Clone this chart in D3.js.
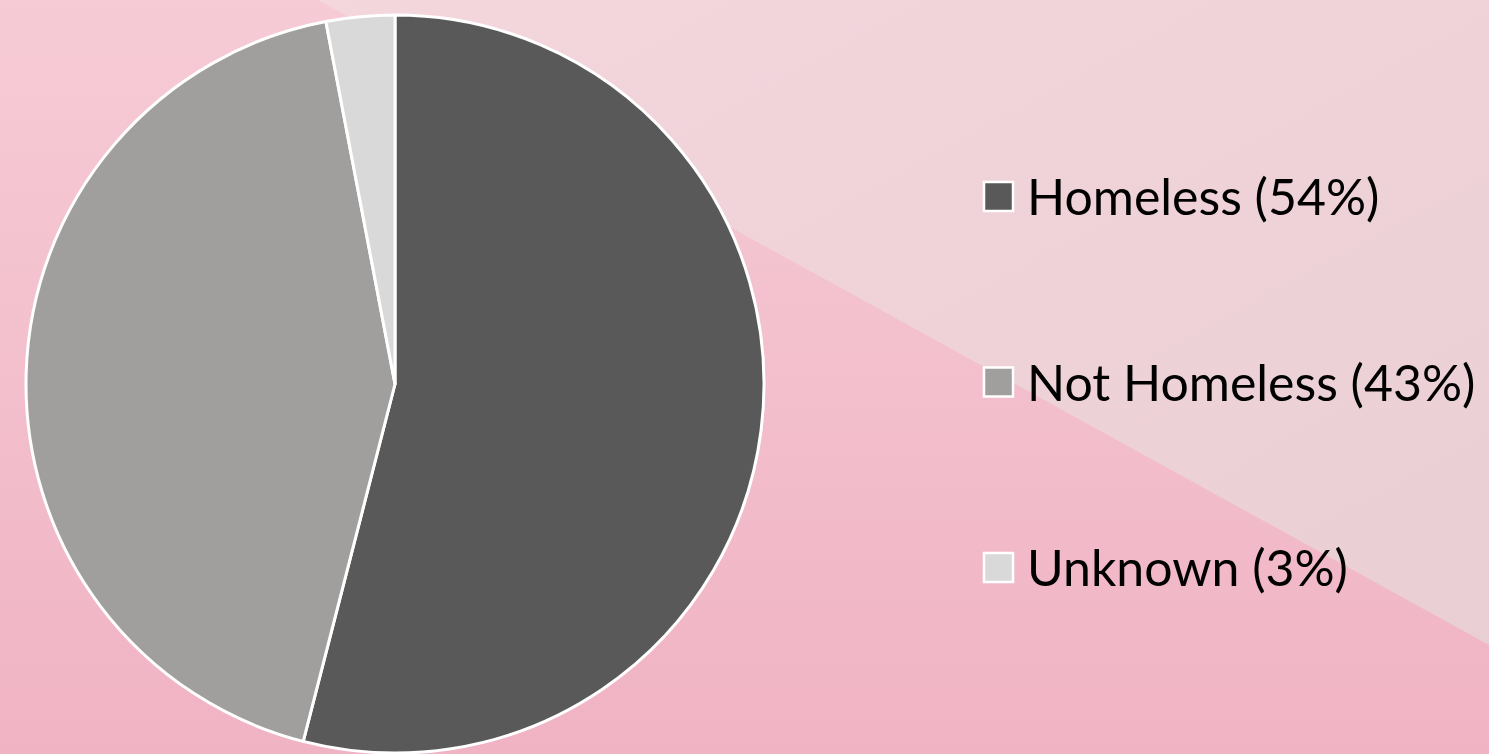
<!DOCTYPE html>
<html>
<head>
<meta charset="utf-8">
<script src="https://cdn.jsdelivr.net/npm/d3@7"></script>
<style>
  html, body { margin: 0; padding: 0; overflow: hidden; }
  svg { display: block; }
</style>
</head>
<body>
<svg id="chart" width="1489" height="754"></svg>
<script>
// Share of cases by housing status
const categories = ["Homeless", "Not Homeless", "Unknown"];
const shares = [54, 43, 3];
const sliceColors = ["#595959", "#a09f9d", "#d9d9d9"];

const W = 1489, H = 754;
const svg = d3.select("#chart");

// Background: pink vertical gradient with a pale diagonal panel on the upper right
const defs = svg.append("defs");
const bg = defs.append("linearGradient").attr("id", "bgGrad")
  .attr("x1", 0).attr("y1", 0).attr("x2", 0).attr("y2", 1);
bg.append("stop").attr("offset", "0%").attr("stop-color", "#f6cbd6");
bg.append("stop").attr("offset", "100%").attr("stop-color", "#f0b3c4");
const panel = defs.append("linearGradient").attr("id", "panelGrad")
  .attr("x1", 0).attr("y1", 0).attr("x2", 1).attr("y2", 1);
panel.append("stop").attr("offset", "0%").attr("stop-color", "#f4d6dd");
panel.append("stop").attr("offset", "100%").attr("stop-color", "#e9cfd4");

svg.append("rect").attr("width", W).attr("height", H).attr("fill", "url(#bgGrad)");
svg.append("path")
  .attr("d", `M318,0 L${W},0 L${W},645 Z`)
  .attr("fill", "url(#panelGrad)");

// Pie
const cx = 395, cy = 384, r = 369;
const pie = d3.pie().sort(null).value(d => d.value);
const arc = d3.arc().innerRadius(0).outerRadius(r);
const data = categories.map((c, i) => ({ name: c, value: shares[i] }));
const color = d3.scaleOrdinal().domain(categories).range(sliceColors);

svg.append("g")
  .attr("transform", `translate(${cx},${cy})`)
  .selectAll("path")
  .data(pie(data))
  .join("path")
  .attr("d", arc)
  .attr("fill", d => color(d.data.name))
  .attr("stroke", "#ffffff")
  .attr("stroke-width", 3)
  .attr("stroke-linejoin", "round");

// Legend
const legendY = d3.scalePoint().domain(categories).range([197, 568]);
const legend = svg.append("g").selectAll("g")
  .data(data)
  .join("g")
  .attr("transform", d => `translate(983,${legendY(d.name)})`);

legend.append("rect")
  .attr("x", 1).attr("y", -15)
  .attr("width", 29).attr("height", 29)
  .attr("fill", d => color(d.name))
  .attr("stroke", "#ffffff")
  .attr("stroke-width", 2.5);

legend.append("text")
  .attr("x", 44).attr("y", 0)
  .attr("dy", "0.36em")
  .attr("font-family", "Lato, 'Open Sans', sans-serif")
  .attr("font-size", 50)
  .attr("fill", "#000000")
  .text(d => `${d.name} (${d.value}%)`);
</script>
</body>
</html>
